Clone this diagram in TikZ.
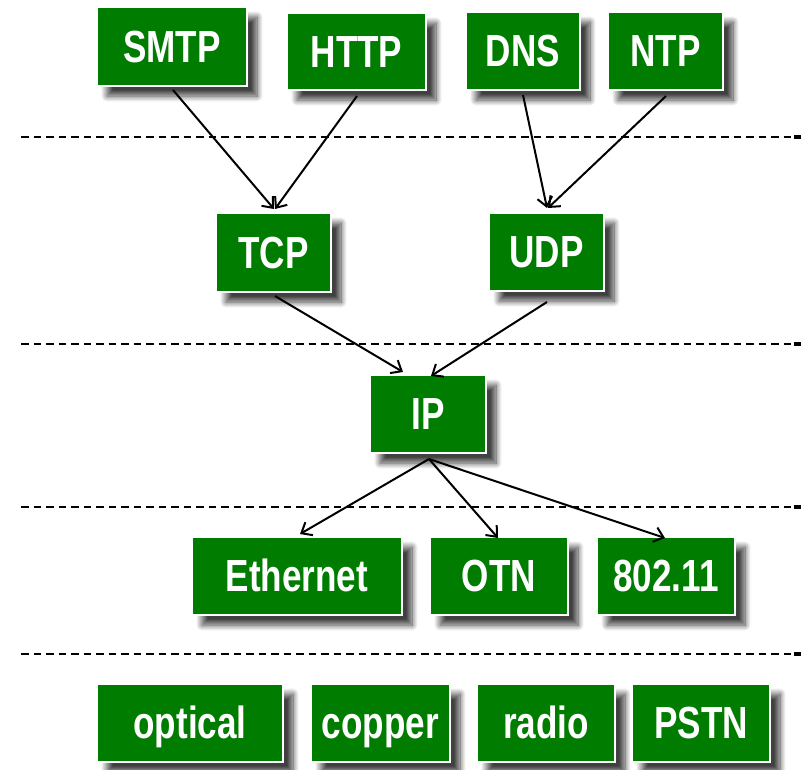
\documentclass[tikz,border=0pt]{standalone}
\usepackage{fontspec}
\newfontfamily\boxfont[FakeStretch=0.78]{Liberation Sans}
\usetikzlibrary{arrows.meta,shadows.blur}
\definecolor{boxgreen}{RGB}{0,124,0}
\tikzset{
  box/.style={rectangle, fill=boxgreen, draw=white, line width=2pt,
    text=white, inner sep=0pt,
    font=\boxfont\bfseries\fontsize{45}{45}\selectfont,
    text height=31pt, text depth=0pt,
    blur shadow={shadow xshift=10pt, shadow yshift=-10pt,
      shadow blur radius=6pt, shadow blur steps=12, shadow opacity=75}},
  arr/.style={-{Straight Barb[length=9pt,width=15pt,line width=2pt]},
    line width=2pt, black},
  layerline/.style={line width=2.2pt, dash pattern=on 7.5pt off 5pt},
}
\begin{document}
\begin{tikzpicture}[x=1pt,y=-1pt]
\useasboundingbox (0,0) rectangle (808,769);

% layer separators
\foreach \yy in {137,344,507,654}{
  \draw[layerline] (21,\yy) -- (792,\yy);
  \draw[line width=3.4pt] (794,\yy) -- (801,\yy);
}

% application layer
\node[box, minimum width=150pt, minimum height=79pt] (smtp) at (172,46.5) {SMTP};
\node[box, minimum width=139pt, minimum height=77pt] (http) at (356.5,51.5) {HTTP};
\node[box, minimum width=114pt, minimum height=78pt] (dns) at (523,51) {DNS};
\node[box, minimum width=115pt, minimum height=78pt] (ntp) at (665.5,51) {NTP};

% transport layer
\node[box, minimum width=115pt, minimum height=79pt] (tcp) at (273.5,252.5) {TCP};
\node[box, minimum width=115pt, minimum height=78pt] (udp) at (546.5,252) {UDP};

% network layer
\node[box, minimum width=116pt, minimum height=78pt] (ip) at (428,414) {IP};

% link layer
\node[box, minimum width=210pt, minimum height=78pt] (eth) at (297,576) {Ethernet};
\node[box, minimum width=138pt, minimum height=78pt] (otn) at (499,576) {OTN};
\node[box, minimum width=138pt, minimum height=78pt] (wifi) at (666,576) {802.11};

% physical media
\node[box, minimum width=186pt, minimum height=78pt] (optical) at (190,723) {optical};
\node[box, minimum width=139pt, minimum height=78pt] (copper) at (380.5,723) {copper};
\node[box, minimum width=138pt, minimum height=78pt] (radio) at (546,723) {radio};
\node[box, minimum width=138pt, minimum height=78pt] (pstn) at (701,723) {PSTN};

% connectors
\draw[arr] ([shift={(1,3)}]smtp.south) -- ([shift={(0.5,-3)}]tcp.north);
\draw[arr] ([shift={(0.5,5)}]http.south) -- ([shift={(1.5,-3)}]tcp.north);
\draw[arr] ([shift={(0,4)}]dns.south) -- ([shift={(0.5,-4)}]udp.north);
\draw[arr] ([shift={(0.5,5)}]ntp.south) -- ([shift={(1.5,-4)}]udp.north);
\draw[arr] ([shift={(1.5,3)}]tcp.south) -- ([shift={(-25,-2)}]ip.north);
\draw[arr] ([shift={(0.5,10)}]udp.south) -- ([shift={(3,2)}]ip.north);
\draw[arr] ([shift={(1,5)}]ip.south) -- ([shift={(3,-2)}]eth.north);
\draw[arr] ([shift={(1,5)}]ip.south) -- ([shift={(-1,2)}]otn.north);
\draw[arr] ([shift={(1,5)}]ip.south) -- ([shift={(-1,2)}]wifi.north);
\end{tikzpicture}
\end{document}
